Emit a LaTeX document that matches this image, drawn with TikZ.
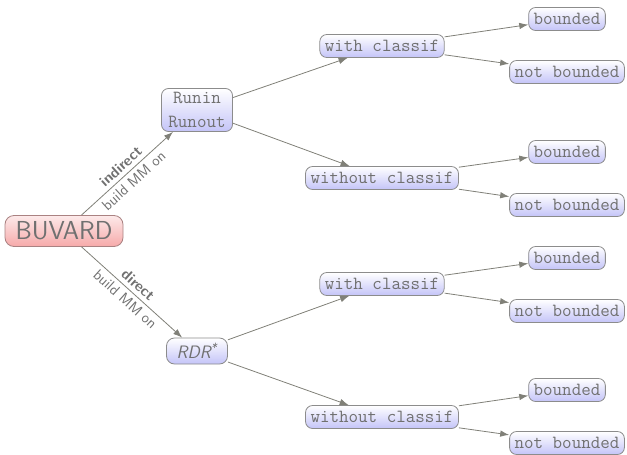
\documentclass[tikz,border=0pt]{standalone}
\usepackage{fontspec}
\usepackage{xcolor}
\usepackage{tikz}
\usetikzlibrary{arrows.meta, positioning, shapes.geometric}

\definecolor{txtgray}{RGB}{112,112,112}
\definecolor{linegray}{RGB}{128,128,120}
\definecolor{boxline}{RGB}{140,140,140}
\definecolor{lavender}{RGB}{196,196,248}
\definecolor{rootpink}{RGB}{246,170,170}
\definecolor{rootline}{RGB}{170,130,130}

\begin{document}
\begin{tikzpicture}[
  x=1pt, y=-1pt, on grid,
  box/.style={rectangle, draw=boxline, line width=0.8pt, rounded corners=7pt, top color=white, bottom color=lavender, text=txtgray, align=center, inner xsep=5pt, inner ysep=2pt, minimum height=23pt, font=\fontsize{18.5}{22}\selectfont\ttfamily},
  root/.style={rectangle, draw=rootline, line width=0.8pt, rounded corners=9pt, top color=rootpink!25, bottom color=rootpink, text=txtgray, minimum width=118pt, minimum height=31pt, inner sep=2pt, font=\fontsize{26}{30}\selectfont\sffamily},
  arrow/.style={-{Latex[length=9pt, width=6.5pt]}, draw=linegray, line width=0.8pt},
  lbl/.style={text=txtgray, sloped, inner sep=4pt, font=\fontsize{15}{17}\selectfont\sffamily}
]
  \useasboundingbox (0,0) rectangle (627,455);

  \node[root] (buvard) at (64,231) {BUVARD};
  \node[box, minimum width=71pt, minimum height=43pt, font=\fontsize{18.5}{23}\selectfont\ttfamily] (run) [above right=121pt and 133pt of buvard] {Runin\\[1pt]Runout};
  \node[box, rounded corners=8pt, minimum width=61pt, minimum height=26pt, font=\fontsize{18}{20}\selectfont\sffamily\itshape] (rdr) [below right=120pt and 133pt of buvard] {RDR\textsuperscript{*}};

  \node[box] (wc1) [above right=64pt and 185pt of run] {with classif};
  \node[box] (woc1) [below right=68pt and 185pt of run] {without classif};
  \node[box] (wc2) [above right=67pt and 185pt of rdr] {with classif};
  \node[box] (woc2) [below right=66pt and 185pt of rdr] {without classif};

  \node[box] (b1) [above right=27pt and 185pt of wc1] {bounded};
  \node[box] (nb1) [below right=26pt and 185pt of wc1] {not bounded};
  \node[box] (b2) [above right=26pt and 185pt of woc1] {bounded};
  \node[box] (nb2) [below right=27pt and 185pt of woc1] {not bounded};
  \node[box] (b3) [above right=26pt and 185pt of wc2] {bounded};
  \node[box] (nb3) [below right=27pt and 185pt of wc2] {not bounded};
  \node[box] (b4) [above right=27pt and 185pt of woc2] {bounded};
  \node[box] (nb4) [below right=26pt and 185pt of woc2] {not bounded};

  \draw[arrow] (buvard) -- node[lbl, above, font=\fontsize{15}{17}\selectfont\sffamily\bfseries] {indirect} node[lbl, below] {build MM on} (run);
  \draw[arrow] (buvard) -- node[lbl, above, font=\fontsize{15}{17}\selectfont\sffamily\bfseries] {direct} node[lbl, below] {build MM on} (rdr);

  \draw[arrow] (run) -- (wc1);
  \draw[arrow] (run) -- (woc1);
  \draw[arrow] (rdr) -- (wc2);
  \draw[arrow] (rdr) -- (woc2);

  \draw[arrow] (wc1) -- (b1);
  \draw[arrow] (wc1) -- (nb1);
  \draw[arrow] (woc1) -- (b2);
  \draw[arrow] (woc1) -- (nb2);
  \draw[arrow] (wc2) -- (b3);
  \draw[arrow] (wc2) -- (nb3);
  \draw[arrow] (woc2) -- (b4);
  \draw[arrow] (woc2) -- (nb4);
\end{tikzpicture}
\end{document}
